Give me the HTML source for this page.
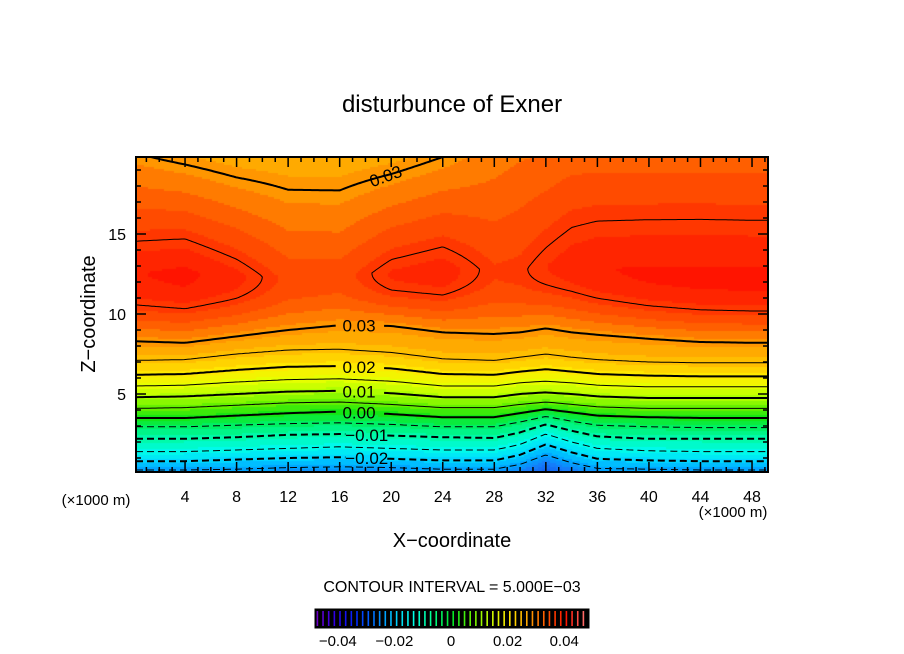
<!DOCTYPE html>
<html><head><meta charset="utf-8">
<style>
html,body{margin:0;padding:0;background:#fff;}
#wrap{position:relative;width:904px;height:654px;overflow:hidden;font-family:"Liberation Sans",sans-serif;}
canvas{position:absolute;left:136px;top:157px;}
svg{position:absolute;left:0;top:0;}
text{font-family:"Liberation Sans",sans-serif;fill:#000;}
</style></head>
<body>
<div id="wrap">
<canvas id="cv" width="632" height="315"></canvas>
<svg id="sv" width="904" height="654">
<text x="452" y="112" font-size="24" text-anchor="middle">disturbunce of Exner</text>
<text x="452" y="547" font-size="20" text-anchor="middle">X−coordinate</text>
<text x="95" y="314" font-size="20" text-anchor="middle" transform="rotate(-90 95 314)">Z−coordinate</text>
<text x="96" y="505" font-size="15" text-anchor="middle">(×1000 m)</text>
<text x="733" y="517" font-size="15" text-anchor="middle">(×1000 m)</text>
<text x="452" y="592" font-size="16" text-anchor="middle">CONTOUR INTERVAL = 5.000E−03</text>
<g id="gLines"></g><g id="gAxes"></g><g id="gBar"></g>
</svg>
</div>
<script>
// ---- data ----
const xs = [0,4,8,12,16,20,24,28,30,32,34,36,40,44,48,50];
const levels = [-0.025,-0.02,-0.015,-0.01,-0.005,0,0.005,0.01,0.015,0.02,0.025,0.03];
const lvM025 = [0.25,0.25,0.3,0.4,0.45,0.4,0.3,0.3,0.6,1.2,0.7,0.35,0.3,0.25,0.25,0.25];
const lvM020 = [0.8,0.8,0.9,1.0,1.05,0.95,0.85,0.85,1.2,1.85,1.35,0.95,0.85,0.8,0.8,0.8];
const lvM015 = [1.4,1.4,1.5,1.6,1.7,1.6,1.5,1.5,1.85,2.5,2.0,1.6,1.45,1.4,1.4,1.4];
const lvM010 = [2.2,2.2,2.3,2.45,2.5,2.4,2.3,2.25,2.6,3.1,2.7,2.35,2.2,2.2,2.2,2.2];
const lvM005 = [2.95,2.95,3.05,3.15,3.2,3.1,2.95,2.95,3.25,3.6,3.3,3.05,2.95,2.9,2.9,2.9];
const lv000 = [3.5,3.5,3.65,3.8,3.9,3.75,3.55,3.55,3.8,4.05,3.85,3.65,3.55,3.5,3.5,3.5];
const lv005 = [4.1,4.15,4.3,4.45,4.5,4.35,4.15,4.15,4.35,4.5,4.35,4.2,4.1,4.1,4.1,4.1];
const lv010 = [4.8,4.85,5.0,5.15,5.2,5.05,4.8,4.8,5.0,5.1,5.0,4.85,4.75,4.75,4.75,4.75];
const lv015 = [5.5,5.55,5.75,5.9,5.95,5.8,5.5,5.5,5.7,5.8,5.7,5.55,5.45,5.45,5.45,5.45];
const lv020 = [6.2,6.25,6.5,6.7,6.75,6.6,6.25,6.2,6.4,6.55,6.4,6.25,6.15,6.1,6.1,6.1];
const lv025 = [7.1,7.15,7.5,7.75,7.8,7.6,7.2,7.1,7.3,7.5,7.3,7.15,7.0,6.95,6.95,6.95];
const lv030 = [8.3,8.2,8.6,9.0,9.3,9.25,8.85,8.75,8.85,9.1,8.85,8.7,8.45,8.25,8.2,8.2];
const topVal = [0.0305,0.029,0.0275,0.027,0.027,0.028,0.030,0.0325,0.0335,0.034,0.035,0.035,0.035,0.035,0.035,0.035];
const peakVal = [0.0435,0.0445,0.042,0.038,0.0375,0.0415,0.0425,0.039,0.0395,0.0412,0.0425,0.0435,0.0442,0.0445,0.0445,0.0445];
const peakZ = [12.6,12.6,12.4,12.3,12.5,12.6,12.8,12.8,12.8,13.0,13.2,13.0,12.6,12.4,12.3,12.3];
const xTicks = [4,8,12,16,20,24,28,32,36,40,44,48];
const yTicks = [5,10,15];
const barTicks = [-0.04,-0.02,0,0.02,0.04];
const barTickLabels = ["−0.04","−0.02","0","0.02","0.04"];
const lineLabels = ["0.03","0.02","0.01","0.00","−0.01","−0.02"];
const lineLabelVals = [0.03,0.02,0.01,0,-0.01,-0.02];
const lineArrs = [lvM025,lvM020,lvM015,lvM010,lvM005,lv000,lv005,lv010,lv015,lv020,lv025,lv030];

// ---- axes ----
const PX0=136,PX1=768,PY0=157,PY1=472;
const X0=(PX0-133.5)/12.886, X1=(PX1-133.5)/12.886;
const sx = x => 133.5 + x*12.886;
const sy = z => 474 - z*16;
const Z1 = (474-157)/16;
const interp = (arr,x)=>{ if(x<=xs[0])return arr[0]; for(let i=1;i<xs.length;i++){ if(x<=xs[i]){const t=(x-xs[i-1])/(xs[i]-xs[i-1]);return arr[i-1]+t*(arr[i]-arr[i-1]);} } return arr[arr.length-1]; };

function field(x,z){
  const zl = lineArrs.map(a=>interp(a,x));
  if(z<zl[0]) return Math.max(-0.037, levels[0]-0.005*(zl[0]-z)/0.5);
  for(let i=1;i<zl.length;i++){ if(z<zl[i]){const t=(z-zl[i-1])/(zl[i]-zl[i-1]);return levels[i-1]+t*0.005;} }
  const z30=zl[zl.length-1], pk=interp(peakVal,x), pz=interp(peakZ,x), tv=interp(topVal,x);
  if(z<pz){const t=(z-z30)/(pz-z30);return 0.03+(pk-0.03)*Math.sin(t*Math.PI/2);}
  const s=Math.min(1,(z-pz)/(Z1-pz));return pk-(pk-tv)*s;
}
const cstops=[[-0.037,[20,90,240]],[-0.03,[20,125,250]],[-0.025,[0,165,255]],[-0.02,[0,215,255]],[-0.015,[0,250,235]],[-0.01,[0,250,170]],[-0.005,[0,240,100]],[0,[20,230,20]],[0.005,[100,240,0]],[0.01,[175,255,0]],[0.015,[230,255,0]],[0.02,[255,232,0]],[0.025,[255,190,0]],[0.03,[255,150,0]],[0.035,[255,95,0]],[0.04,[255,55,0]],[0.045,[255,20,0]]];
function col(v){ if(v<=cstops[0][0])return cstops[0][1]; for(let i=1;i<cstops.length;i++){ if(v<=cstops[i][0]){const t=(v-cstops[i-1][0])/(cstops[i][0]-cstops[i-1][0]);return cstops[i-1][1].map((a,k)=>Math.round(a+t*(cstops[i][1][k]-a)));} } return cstops[cstops.length-1][1]; }

// ---- fill ----
const cv=document.getElementById('cv'),ctx=cv.getContext('2d');
const W=632,H=315,S=2;
const grid=[];
for(let j=0;j<=H/S+1;j++){grid.push([]);for(let i=0;i<=W/S+1;i++){
  const x=(PX0+i*S-133.5)/12.886, z=(474-(PY0+j*S))/16; grid[j].push(field(x,z));}}
for(let j=0;j<H/S;j++)for(let i=0;i<W/S;i++){
  const v=(grid[j][i]+grid[j+1][i]+grid[j][i+1]+grid[j+1][i+1])/4;
  const q=Math.floor(v/0.0025+0.5)*0.0025; const c=col(q);
  ctx.fillStyle=`rgb(${c[0]},${c[1]},${c[2]})`; ctx.fillRect(i*S,j*S,S,S);}

const NS='http://www.w3.org/2000/svg';
function mk(tag,attrs,parent){const e=document.createElementNS(NS,tag);for(const k in attrs)e.setAttribute(k,attrs[k]);parent.appendChild(e);return e;}
const gL=document.getElementById('gLines');
const labelled=v=>lineLabelVals.some(l=>Math.abs(l-v)<1e-9);
// contour lines from level arrays
lineArrs.forEach((arr,li)=>{
  const v=levels[li]; let d=''; let pen=false;
  const gap0 = v<0?16.6:15.8, gap1 = v<0?19.6:19.2;
  for(let x=X0;x<=X1+0.01;x+=0.25){
    const xc=Math.min(x,X1);
    if(labelled(v)&&xc>gap0&&xc<gap1){pen=false;continue;}
    const z=interp(arr,xc);d+=(pen?'L':'M')+sx(xc).toFixed(1)+','+sy(z).toFixed(1);pen=true;}
  const major=Math.abs(Math.round(v*100)-v*100)<1e-6;
  const p=mk('path',{d:d,fill:'none',stroke:'#000','stroke-width':major?2:1,'stroke-dasharray':v<0?'7,4':'none'},gL);
  
  
});
// marching squares for upper contours
function ms(L,zmin,width,name){let d='';
 for(let j=0;j<H/S;j++)for(let i=0;i<W/S;i++){
  const X=PX0+i*S,Y=PY0+j*S; if((474-Y)/16<zmin)continue;
  const a=grid[j][i],b=grid[j][i+1],c=grid[j+1][i+1],e=grid[j+1][i];
  const pts=[];
  if((a-L)*(b-L)<0)pts.push([X+S*(L-a)/(b-a),Y]);
  if((b-L)*(c-L)<0)pts.push([X+S,Y+S*(L-b)/(c-b)]);
  if((e-L)*(c-L)<0)pts.push([X+S*(L-e)/(c-e),Y+S]);
  if((a-L)*(e-L)<0)pts.push([X,Y+S*(L-a)/(e-a)]);
  if(pts.length>=2)d+='M'+pts[0][0].toFixed(1)+','+pts[0][1].toFixed(1)+'L'+pts[1][0].toFixed(1)+','+pts[1][1].toFixed(1);
 }
 const p=mk('path',{d:d,fill:'none',stroke:'#000','stroke-width':width,'stroke-linecap':'round'},gL);
 
 }
ms(0.04,9,1,'contour-line-004');
ms(0.03,14,2,'contour-line-top');
// line labels
lineLabels.forEach((t,k)=>{
  const li=levels.findIndex(v=>Math.abs(v-lineLabelVals[k])<1e-9);
  const xv=(lineLabelVals[k]<0?18.1:17.5);
  const z=interp(lineArrs[li],xv);
  const tx=mk('text',{x:sx(xv),y:sy(z)+6,'font-size':17,'text-anchor':'middle'},gL);
  tx.textContent=t;
  
  
});
{const tx=mk('text',{x:386,y:182,'font-size':17,'text-anchor':'middle',transform:'rotate(-20 386 177)'},gL);tx.textContent='0.03';
 
 }

// axes
const gA=document.getElementById('gAxes');
{const r=mk('rect',{x:PX0,y:PY0,width:PX1-PX0,height:PY1-PY0,fill:'none',stroke:'#000','stroke-width':2},gA);
 
 }
let tk='';
for(let x=0;x<=49;x+=1){const X=sx(x);if(X<PX0||X>PX1)continue;const big=x%4===0;tk+=`M${X},${PY1}v${big?-10:-5}M${X},${PY0}v${big?10:5}`;}
for(let z=1;z<=19;z++){const Y=sy(z);const big=z%5===0;tk+=`M${PX0},${Y}h${big?10:5}M${PX1},${Y}h${big?-10:-5}`;}
{const p=mk('path',{d:tk,stroke:'#000','stroke-width':1.5,fill:'none'},gA);
 
 }
xTicks.forEach(v=>{const t=mk('text',{x:sx(v),y:502,'font-size':16,'text-anchor':'middle'},gA);t.textContent=v;
 
 });
yTicks.forEach(v=>{const t=mk('text',{x:126,y:sy(v)+6,'font-size':16,'text-anchor':'end'},gA);t.textContent=v;
 
 });

// colorbar
const gB=document.getElementById('gBar');
{const r=mk('rect',{x:315,y:609,width:274,height:19,fill:'#000',stroke:'#000'},gB);
 
 }
const bx=v=>451+v*2830;
const barCols=[[110,0,200],[40,0,230],[0,40,255],[0,120,255],[0,200,255],[0,255,230],[0,255,140],[0,230,40],[100,240,0],[200,255,0],[255,230,0],[255,160,0],[255,80,0],[255,20,0],[255,120,120]];
for(let v=-0.0475;v<=0.0476;v+=0.002){
  const t=(v+0.0475)/0.095*(barCols.length-1);const i=Math.min(Math.floor(t),barCols.length-2),f=t-i;
  const c=barCols[i].map((a,k)=>Math.round(a+f*(barCols[i+1][k]-a)));
  const l=mk('rect',{x:bx(v),y:611,width:1.6,height:15,fill:`rgb(${c})`},gB);
  
  
}
barTicks.forEach((v,k)=>{const t=mk('text',{x:bx(v),y:646,'font-size':15,'text-anchor':'middle'},gB);t.textContent=barTickLabels[k];
 
 });
</script>
</body></html>
